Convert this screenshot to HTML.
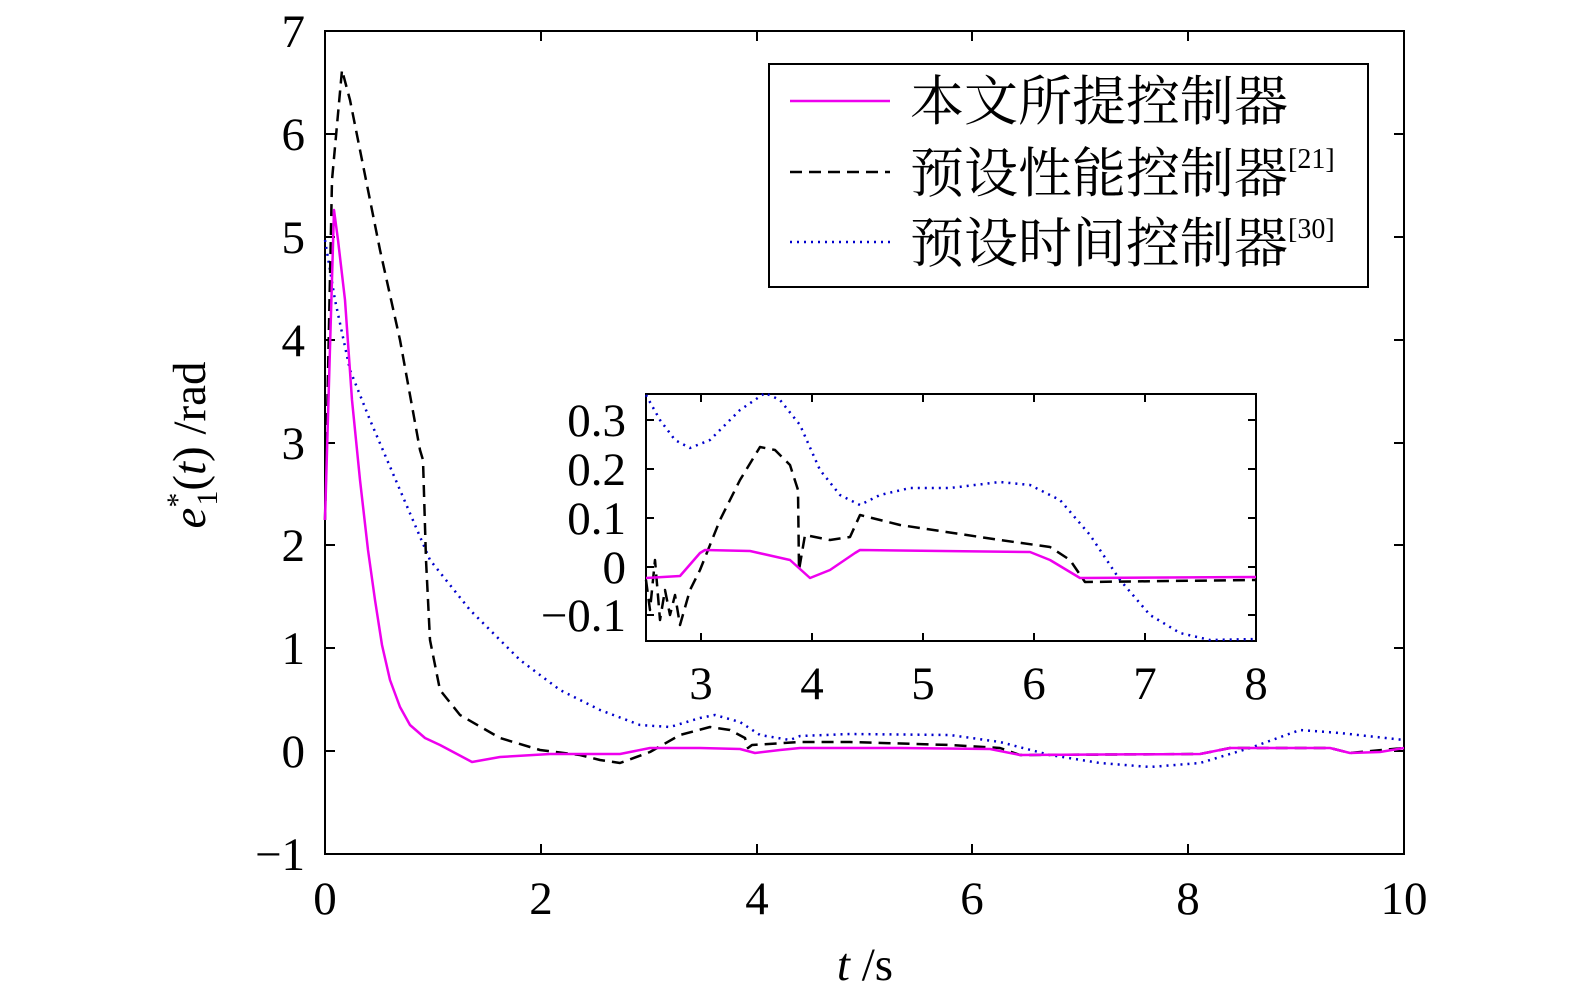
<!DOCTYPE html>
<html><head><meta charset="utf-8"><style>
html,body{margin:0;padding:0;background:#fff}
svg{display:block}
text{font-family:"Liberation Serif","Noto Serif CJK SC",serif;fill:#000}
polyline{stroke-linejoin:round}
</style></head><body>
<svg width="1575" height="997" viewBox="0 0 1575 997" xmlns="http://www.w3.org/2000/svg">
<rect x="0" y="0" width="1575" height="997" fill="#fff"/>
<g stroke="#000" stroke-width="2" fill="none">
<rect x="325" y="31" width="1079" height="823"/>
<path d="M541,854v-10M757,854v-10M972,854v-10M1188,854v-10M541,31v10M757,31v10M972,31v10M1188,31v10"/>
<path d="M325,134h10M325,237h10M325,340h10M325,443h10M325,545h10M325,648h10M325,751h10M1404,134h-10M1404,237h-10M1404,340h-10M1404,443h-10M1404,545h-10M1404,648h-10M1404,751h-10"/>
</g>
<g font-size="47" text-anchor="end">
<text x="305" y="47">7</text><text x="305" y="150">6</text><text x="305" y="253">5</text><text x="305" y="356">4</text><text x="305" y="459">3</text><text x="305" y="561">2</text><text x="305" y="664">1</text><text x="305" y="767">0</text><text x="305" y="870">−1</text>
</g>
<g font-size="47" text-anchor="middle">
<text x="325" y="914">0</text><text x="541" y="914">2</text><text x="757" y="914">4</text><text x="972" y="914">6</text><text x="1188" y="914">8</text><text x="1404" y="914">10</text>
</g>
<text x="865" y="980" font-size="47" text-anchor="middle"><tspan font-style="italic">t</tspan> /s</text>
<text transform="translate(205,445) rotate(-90)" font-size="47" text-anchor="middle"><tspan font-style="italic">e</tspan><tspan font-size="30" dy="-18">*</tspan><tspan font-size="30" dx="-13" dy="30">1</tspan><tspan dy="-12">(</tspan><tspan font-style="italic">t</tspan>)  /rad</text>
<polyline fill="none" stroke="#00c" stroke-width="2.5" stroke-dasharray="2,5" points="325,240 335,300 350,370 370,420 400,490 430,560 470,610 520,660 560,690 600,710 640,725 670,727 700,718 715,715 740,722 760,735 790,740 800,736 850,734 950,735 1000,742 1050,755 1100,763 1150,767 1200,763 1250,748 1300,730 1340,733 1404,740"/>
<polyline fill="none" stroke="#000" stroke-width="2.5" stroke-dasharray="12,7" points="325,520 332,180 342,70 350,100 380,250 400,340 420,450 423,460 426,560 430,640 440,690 460,715 500,738 540,750 580,755 600,760 620,763 650,752 680,735 710,727 730,730 745,738 748,748 752,745 800,742 850,742 950,745 1000,748 1020,755 1200,754 1230,748 1330,748 1350,753 1404,748"/>
<polyline fill="none" stroke="#e0e" stroke-width="2.5" points="325,520 334,210 338,240 345,300 352,400 360,480 368,550 375,600 382,645 390,680 400,707 410,725 425,738 440,745 472,762 500,757 550,754 620,754 650,748 700,748 740,749 755,753 780,750 800,748 900,748 990,749 1020,755 1200,754 1230,748 1330,748 1350,753 1380,752 1404,748"/>
<rect x="769" y="64" width="599" height="223" fill="#fff" stroke="#000" stroke-width="2"/>
<line x1="790" y1="101" x2="890" y2="101" stroke="#e0e" stroke-width="2.5"/>
<line x1="790" y1="172" x2="890" y2="172" stroke="#000" stroke-width="2.5" stroke-dasharray="12,7"/>
<line x1="790" y1="242" x2="890" y2="242" stroke="#00c" stroke-width="2.5" stroke-dasharray="2,5"/>
<g font-size="54">
<text x="910" y="120">本文所提控制器</text>
<text x="910" y="192">预设性能控制器<tspan font-size="28" dy="-24">[21]</tspan></text>
<text x="910" y="262">预设时间控制器<tspan font-size="28" dy="-24">[30]</tspan></text>
</g>
<rect x="646" y="394" width="610" height="247" fill="#fff" stroke="#000" stroke-width="2"/>
<g stroke="#000" stroke-width="2" fill="none">
<path d="M701,641v-8M812,641v-8M923,641v-8M1034,641v-8M1145,641v-8M701,394v8M812,394v8M923,394v8M1034,394v8M1145,394v8"/>
<path d="M646,420h8M646,469h8M646,518h8M646,567h8M646,615h8M1256,420h-8M1256,469h-8M1256,518h-8M1256,567h-8M1256,615h-8"/>
</g>
<g font-size="47" text-anchor="end">
<text x="626" y="436">0.3</text><text x="626" y="485">0.2</text><text x="626" y="534">0.1</text><text x="626" y="583">0</text><text x="626" y="631">−0.1</text>
</g>
<g font-size="47" text-anchor="middle">
<text x="701" y="699">3</text><text x="812" y="699">4</text><text x="923" y="699">5</text><text x="1034" y="699">6</text><text x="1145" y="699">7</text><text x="1256" y="699">8</text>
</g>
<polyline fill="none" stroke="#00c" stroke-width="2.5" stroke-dasharray="2,5" points="646,395 660,420 675,440 690,448 710,440 740,410 765,393 780,400 800,425 820,470 840,495 860,505 880,495 910,488 950,488 1000,482 1030,485 1060,500 1090,535 1120,580 1150,615 1180,633 1210,640 1256,639"/>
<polyline fill="none" stroke="#000" stroke-width="2.5" stroke-dasharray="12,7" points="646,580 650,610 655,560 660,620 665,590 670,615 675,595 680,625 690,590 700,570 720,520 740,480 760,447 775,450 790,465 798,490 799,570 805,535 830,540 850,537 860,515 900,525 1000,540 1050,547 1070,560 1085,582 1256,580"/>
<polyline fill="none" stroke="#e0e" stroke-width="2.5" points="646,578 680,576 700,553 705,550 750,551 790,560 810,578 830,570 855,553 860,550 1030,552 1050,560 1080,578 1256,577"/>
</svg>
</body></html>
